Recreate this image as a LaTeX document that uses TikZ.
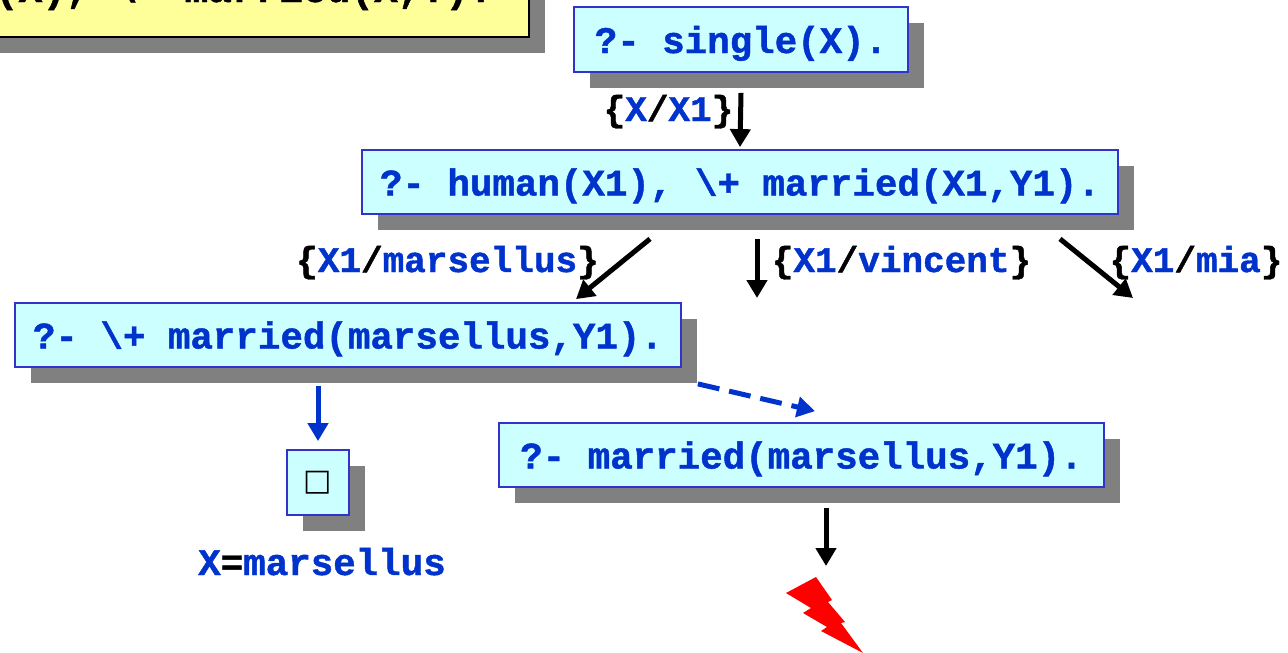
\documentclass[tikz,border=0pt]{standalone}
\usepackage{fontspec}
\newfontfamily\cour{Liberation Mono}[BoldFeatures={FakeBold=1.2}]
\newfontfamily\djv{DejaVu Sans}
\usetikzlibrary{arrows.meta,shadows}
\definecolor{boxfill}{HTML}{CCFFFF}
\definecolor{boxdraw}{HTML}{3333CC}
\definecolor{txtblue}{HTML}{0033CC}
\definecolor{yel}{HTML}{FFFF99}
\definecolor{shgray}{HTML}{808080}
\definecolor{boltred}{HTML}{FF0000}
\tikzset{
  shadowed/.style={drop shadow={shadow xshift=16pt,shadow yshift=-16pt,fill=shgray,opacity=1}},
  gbox/.style={draw=boxdraw,line width=1.8pt,fill=boxfill,inner sep=0pt,shadowed},
  goal/.style={gbox,text=txtblue,font=\cour\bfseries\fontsize{37.5}{40}\selectfont,text height=35pt,text depth=8pt},
  lab/.style={anchor=base,inner sep=0pt,text=black,font=\cour\bfseries\fontsize{36}{40}\selectfont},
  arr/.style={line width=5pt,-{Triangle[width=20pt,length=18pt]}},
  barr/.style={arr,draw=txtblue},
}
\newcommand{\bl}[1]{\textcolor{txtblue}{#1}}
\begin{document}
\begin{tikzpicture}[x=1pt,y=-1pt]
\useasboundingbox (0,0) rectangle (1288,653);
% rule box (cut off at the top)
\node[draw=black,line width=2pt,fill=yel,shadowed,inner sep=0pt,minimum width=913pt,minimum height=80pt] (rule) at (72.5,-3) {};
\node[lab,anchor=base east,font=\cour\bfseries\fontsize{39.5}{42}\selectfont] (ruletext) at (493,2) {single(X) :- human(X), \textbackslash+ married(X,Y).};
% goals
\node[goal,minimum width=334pt,minimum height=65pt] (single) at (741,39.5) {?- single(X).};
\node[goal,minimum width=756pt,minimum height=64pt] (human) at (740,182) {?- human(X1), \textbackslash+ married(X1,Y1).};
\node[goal,minimum width=666pt,minimum height=64pt] (negm) at (348,335) {?- \textbackslash+ married(marsellus,Y1).};
\node[goal,minimum width=605pt,minimum height=64pt] (married) at (801.5,455) {?- married(marsellus,Y1).};
\node[gbox,minimum width=62pt,minimum height=65pt,font=\djv\fontsize{30}{32}\selectfont] (empty) at (318,482.5) {□};
% labels
\node[lab] (l1) at (668.5,121) {\{\bl{X}/\bl{X1}\}};
\node[lab] (l2) at (447.5,272) {\{\bl{X1}/\bl{marsellus}\}};
\node[lab] (l3) at (901.5,272) {\{\bl{X1}/\bl{vincent}\}};
\node[lab] (l4) at (1196,272) {\{\bl{X1}/\bl{mia}\}};
\node[lab,font=\cour\bfseries\fontsize{37.5}{40}\selectfont] (answer) at (322,575) {\bl{X}=\bl{marsellus}};
% free ends
\coordinate (vinc) at (757,298);
\coordinate (mia) at (1133,298);
\coordinate (fail) at (826,566);
% connectors
\draw[arr] ([yshift=-20pt]single.south) -- ([yshift=2pt]human.north);
\draw[arr] ([xshift=-90pt,yshift=-24pt]human.south) -- ([xshift=228pt,yshift=3pt]negm.north);
\draw[arr] ([xshift=17pt,yshift=-24pt]human.south) -- (vinc);
\draw[arr] ([xshift=320pt,yshift=-24pt]human.south) -- (mia);
\draw[barr] ([xshift=-30pt,yshift=-18pt]negm.south) -- ([yshift=8pt]empty.north);
\draw[barr,dash pattern=on 22pt off 10pt] ([xshift=16pt,yshift=-16pt]negm.south east) -- ([xshift=13.5pt,yshift=11pt]married.north);
\draw[arr] ([xshift=24.5pt,yshift=-20pt]married.south) -- (fail);
% lightning bolt
\fill[boltred] (786,593) -- (816,577) -- (832,600) -- (828,602) -- (845,622) -- (841,623) -- (863,653) -- (821,631) -- (827,627) -- (803,613) -- (811,608) -- cycle;
\end{tikzpicture}
\end{document}
